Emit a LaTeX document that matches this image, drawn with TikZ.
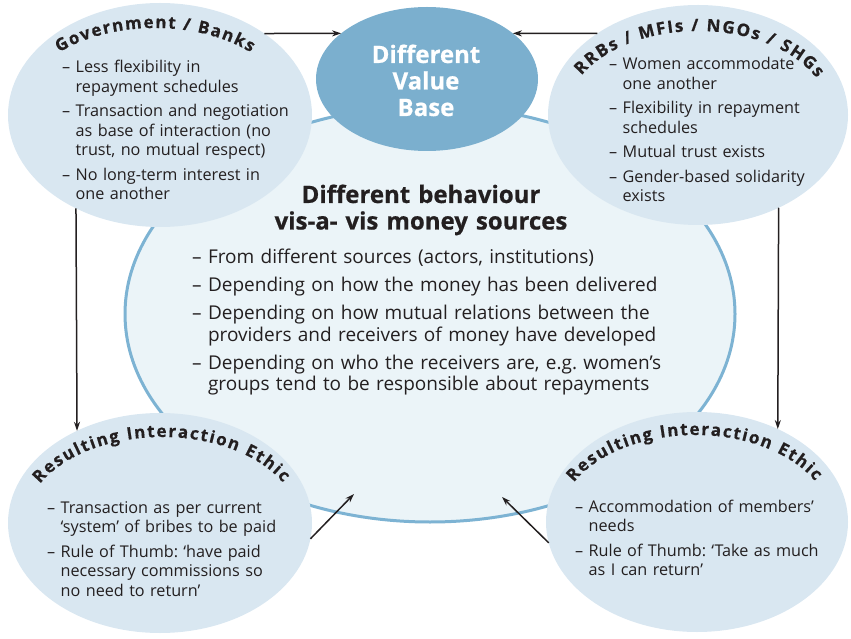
\documentclass[tikz,border=0pt]{standalone}
\usepackage{fontspec}
\setmainfont{Open Sans}[BoldFeatures={FakeBold=0.6}]
\usepackage{tikz}
\usetikzlibrary{shapes.geometric,arrows.meta,decorations.text}
\frenchspacing

\definecolor{inkgray}{RGB}{35,31,32}
\definecolor{paleblue}{RGB}{217,231,241}
\definecolor{mistblue}{RGB}{235,244,248}
\definecolor{steelblue}{RGB}{123,175,206}
\definecolor{rimblue}{RGB}{125,179,211}

% dash items with hanging indent
\newlength{\dashw}
\newlength{\itmgap}
\newcommand{\itm}[1]{\setlength{\parskip}{\itmgap}\settowidth{\dashw}{–\ }\hangindent=\dashw\hangafter=1 –\ #1\par}

\tikzset{
  blob/.style={ellipse, fill=paleblue, inner sep=0pt, outer sep=0pt},
  hub/.style={blob, fill=mistblue, draw=rimblue, line width=3pt},
  link/.style={-{Stealth[length=9pt,width=6pt]}, line width=1.5pt, draw=inkgray},
  smalllist/.style={anchor=base west, inner sep=0pt, text width=280pt, text=inkgray,
    font=\fontsize{16.2}{19.5}\selectfont\setlength{\itmgap}{5pt}},
  biglist/.style={smalllist, text width=500pt,
    font=\fontsize{19}{21.5}\selectfont\setlength{\itmgap}{6.5pt}},
  hubtitle/.style={anchor=base, inner sep=0pt, text width=360pt, align=center, text=inkgray,
    font=\bfseries\fontsize{24}{26.5}\selectfont},
  valuetitle/.style={hubtitle, text width=200pt, text=white},
  curvelabel/.style={decorate, decoration={text along path, text align=fit to path,
    text={|\bfseries\fontsize{17}{17}\selectfont\color{inkgray}|#1}}}
}

\begin{document}
\begin{tikzpicture}[x=1pt,y=1pt]
  \useasboundingbox (0,0) rectangle (851,638);

  % Ellipses
  \node[hub, minimum width=610pt, minimum height=416pt] (behav) at (430,324) {};
  \node[blob, minimum width=304pt, minimum height=224pt] (gov) at (160,523) {};
  \node[blob, minimum width=300pt, minimum height=220pt] (rrb) at (698,523) {};
  \node[blob, minimum width=304pt, minimum height=220pt] (ethicL) at (160,115) {};
  \node[blob, minimum width=302pt, minimum height=220pt] (ethicR) at (697,116) {};
  \node[blob, fill=steelblue, minimum width=222pt, minimum height=144pt] (value) at (427,559) {};

  % Arrows
  \coordinate (tipL) at (354,144);
  \coordinate (tipR) at (502,141);
  \draw[link] (gov.38) -- (value.152);
  \draw[link] (rrb.141) -- (value.28);
  \draw[link] (gov.228) -- (ethicL.132);
  \draw[link] (rrb.311) -- (ethicR.49);
  \draw[link] (ethicL.-6) -- (tipL);
  \draw[link] (ethicR.188) -- (tipR);

  % Curved headings
  \path[curvelabel={Government / Banks}] ([shift={(134:138 and 87)}]155,523) arc[start angle=134, end angle=46, x radius=138, y radius=87];
  \path[curvelabel={RRBs / MFIs / NGOs / SHGs}] ([shift={(152:132 and 84)}]698,523) arc[start angle=152, end angle=26, x radius=132, y radius=84];
  \path[curvelabel={Resulting Interaction Ethic}] ([shift={(153:137 and 86)}]162,115) arc[start angle=153, end angle=28, x radius=137, y radius=86];
  \path[curvelabel={Resulting Interaction Ethic}] ([shift={(153:136 and 87)}]695,116) arc[start angle=153, end angle=28, x radius=136, y radius=87];

  % Titles
  \node[valuetitle] (valuetext) at (426,575) {Different\\Value\\Base};
  \node[hubtitle] (behavtitle) at (421,435) {Different behaviour\\vis-a- vis money sources};

  % Lists
  \node[smalllist] (govlist) at (62,565) {\itm{Less flexibility in\newline repayment schedules}\itm{Transaction and negotiation\newline as base of interaction (no\newline trust, no mutual respect)}\itm{No long-term interest in\newline one another}};
  \node[smalllist] (rrblist) at (609,568) {\itm{Women accommodate\newline one another}\itm{Flexibility in repayment\newline schedules}\itm{Mutual trust exists}\itm{Gender-based solidarity\newline exists}};
  \node[smalllist] (ethicLlist) at (47,125) {\itm{Transaction as per current\newline ‘system’ of bribes to be paid}\itm{Rule of Thumb: ‘have paid\newline necessary commissions so\newline no need to return’}};
  \node[smalllist] (ethicRlist) at (575,126) {\itm{Accommodation of members’\newline needs}\itm{Rule of Thumb: ‘Take as much\newline as I can return’}};
  \node[biglist] (behavlist) at (192,374) {\itm{From different sources (actors, institutions)}\itm{Depending on how the money has been delivered}\itm{Depending on how mutual relations between the\newline providers and receivers of money have developed}\itm{Depending on who the receivers are, e.g. women’s\newline groups tend to be responsible about repayments}};
\end{tikzpicture}
\end{document}
